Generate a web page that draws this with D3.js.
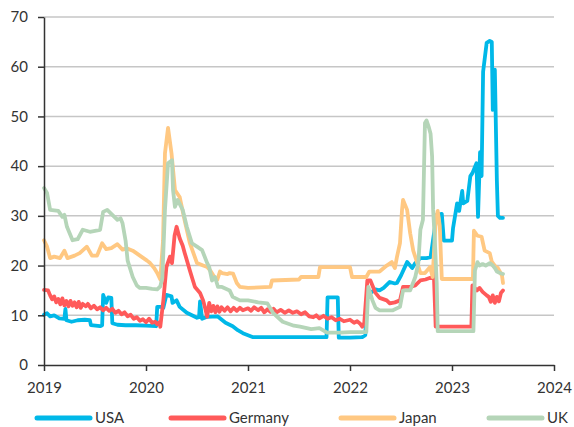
<!DOCTYPE html>
<html><head><meta charset="utf-8">
<script src="https://cdn.jsdelivr.net/npm/d3@7"></script>
<style>body{margin:0;background:#fff}svg{display:block;font-family:Lato,"Open Sans",sans-serif}</style>
</head><body><svg id="c" width="574" height="427"></svg>
<script>
const seriesNames = ["USA", "Germany", "Japan", "UK"];
const seriesColors = ["#00b8e8", "#ff5a5a", "#ffc882", "#b5d5b8"];
const yTicks = [0, 10, 20, 30, 40, 50, 60, 70];
const xTicks = [2019, 2020, 2021, 2022, 2023, 2024];

const usa = [[2019.00,10.1],[2019.03,10.4],[2019.06,9.8],[2019.10,10.0],[2019.15,9.4],[2019.20,9.3],[2019.21,11.3],[2019.22,9.0],[2019.27,8.7],[2019.33,9.0],[2019.40,9.1],[2019.45,9.0],[2019.46,8.0],[2019.55,7.8],[2019.57,8.0],[2019.58,14.1],[2019.61,12.5],[2019.63,13.6],[2019.66,13.5],[2019.67,8.4],[2019.72,8.1],[2019.80,8.0],[2019.90,8.0],[2020.00,7.9],[2020.10,7.8],[2020.11,11.7],[2020.16,11.7],[2020.17,11.5],[2020.20,14.1],[2020.25,13.8],[2020.26,12.5],[2020.30,13.0],[2020.33,11.7],[2020.40,10.5],[2020.45,10.0],[2020.50,9.5],[2020.52,9.6],[2020.53,12.8],[2020.55,9.3],[2020.60,9.7],[2020.70,9.8],[2020.78,8.5],[2020.85,7.8],[2020.90,7.0],[2020.95,6.4],[2021.00,6.0],[2021.05,5.6],[2021.30,5.6],[2021.77,5.6],[2021.78,13.6],[2021.88,13.6],[2021.89,5.5],[2022.00,5.5],[2022.12,5.6],[2022.15,6.0],[2022.17,15.0],[2022.20,14.5],[2022.25,15.2],[2022.29,15.0],[2022.33,15.5],[2022.39,16.7],[2022.44,16.4],[2022.46,16.5],[2022.50,18.0],[2022.56,20.7],[2022.61,19.5],[2022.64,20.5],[2022.69,21.5],[2022.75,21.5],[2022.79,21.7],[2022.85,30.2],[2022.90,30.4],[2022.92,25.0],[2023.00,25.0],[2023.01,27.5],[2023.05,32.5],[2023.07,31.0],[2023.10,35.0],[2023.11,32.5],[2023.15,33.0],[2023.18,38.0],[2023.20,38.6],[2023.24,40.6],[2023.255,29.8],[2023.275,42.8],[2023.29,38.0],[2023.305,59.0],[2023.34,64.8],[2023.37,65.2],[2023.39,65.0],[2023.40,51.3],[2023.42,59.4],[2023.44,37.0],[2023.45,30.0],[2023.47,29.6],[2023.50,29.6]];

const germany = [[2019.00,15.1],[2019.04,15.0],[2019.06,14.0],[2019.08,13.2],[2019.10,13.8],[2019.12,12.6],[2019.14,13.3],[2019.16,12.2],[2019.18,13.4],[2019.20,12.0],[2019.22,12.9],[2019.24,11.8],[2019.26,12.9],[2019.28,11.9],[2019.30,12.6],[2019.32,11.6],[2019.34,12.7],[2019.36,11.5],[2019.38,12.3],[2019.41,11.8],[2019.43,12.3],[2019.46,11.4],[2019.49,11.9],[2019.52,11.2],[2019.55,11.6],[2019.58,11.0],[2019.61,11.5],[2019.64,10.9],[2019.67,11.3],[2019.70,10.5],[2019.73,10.9],[2019.76,10.2],[2019.79,10.6],[2019.82,9.8],[2019.85,10.1],[2019.88,9.3],[2019.91,9.6],[2019.94,8.9],[2019.97,9.2],[2020.00,8.6],[2020.03,9.3],[2020.06,8.5],[2020.09,8.7],[2020.11,8.2],[2020.13,8.6],[2020.14,7.7],[2020.17,13.0],[2020.20,19.7],[2020.235,21.8],[2020.255,20.5],[2020.28,26.0],[2020.30,27.8],[2020.33,25.5],[2020.36,24.0],[2020.38,22.5],[2020.43,19.0],[2020.46,17.0],[2020.48,15.7],[2020.53,14.5],[2020.56,13.0],[2020.58,11.4],[2020.60,9.7],[2020.62,12.5],[2020.64,10.8],[2020.66,11.9],[2020.68,10.6],[2020.70,11.8],[2020.72,10.7],[2020.74,11.6],[2020.77,10.9],[2020.80,11.6],[2020.83,10.8],[2020.86,11.5],[2020.89,10.9],[2020.92,11.5],[2020.95,11.0],[2021.00,11.4],[2021.03,10.9],[2021.06,11.6],[2021.10,11.0],[2021.13,11.5],[2021.16,10.6],[2021.19,11.2],[2021.22,10.7],[2021.25,11.3],[2021.28,10.6],[2021.32,11.1],[2021.36,10.5],[2021.40,11.0],[2021.44,10.5],[2021.48,10.8],[2021.52,10.2],[2021.56,10.6],[2021.60,9.8],[2021.64,9.6],[2021.67,10.0],[2021.70,9.4],[2021.74,9.9],[2021.78,9.3],[2021.82,9.6],[2021.86,9.0],[2021.90,9.3],[2021.94,8.8],[2022.00,9.1],[2022.04,8.5],[2022.07,8.8],[2022.10,8.3],[2022.12,7.7],[2022.14,8.5],[2022.17,17.0],[2022.20,17.0],[2022.25,14.5],[2022.29,13.5],[2022.36,13.0],[2022.39,12.4],[2022.44,12.6],[2022.49,13.0],[2022.52,15.7],[2022.59,15.7],[2022.64,16.0],[2022.69,17.0],[2022.74,17.2],[2022.78,17.5],[2022.81,17.5],[2022.82,19.5],[2022.84,7.7],[2023.00,7.7],[2023.19,7.7],[2023.20,16.0],[2023.245,15.0],[2023.27,15.5],[2023.30,14.7],[2023.34,14.0],[2023.36,13.7],[2023.38,12.7],[2023.40,14.0],[2023.42,12.5],[2023.44,13.7],[2023.46,12.8],[2023.48,14.5],[2023.50,15.0]];

const japan = [[2019.00,25.1],[2019.03,23.8],[2019.06,21.5],[2019.10,21.8],[2019.157,21.5],[2019.20,23.0],[2019.23,21.5],[2019.30,22.0],[2019.35,22.5],[2019.42,23.8],[2019.47,22.0],[2019.52,22.0],[2019.57,24.5],[2019.61,23.3],[2019.66,23.5],[2019.72,24.3],[2019.77,23.2],[2019.81,23.5],[2019.87,23.0],[2019.94,22.0],[2020.01,21.0],[2020.04,20.5],[2020.08,19.5],[2020.11,18.5],[2020.14,17.2],[2020.167,25.0],[2020.186,42.6],[2020.216,47.7],[2020.25,42.6],[2020.284,35.2],[2020.33,33.8],[2020.38,29.0],[2020.43,24.5],[2020.50,20.5],[2020.56,20.0],[2020.60,19.7],[2020.63,19.0],[2020.676,17.5],[2020.70,17.2],[2020.725,18.8],[2020.745,18.5],[2020.80,18.3],[2020.82,18.5],[2020.853,18.4],[2020.89,16.5],[2020.92,15.7],[2021.00,15.5],[2021.22,15.7],[2021.235,17.0],[2021.50,17.2],[2021.52,17.7],[2021.69,17.7],[2021.706,19.7],[2022.00,19.7],[2022.02,17.7],[2022.16,17.7],[2022.19,18.8],[2022.29,18.8],[2022.36,20.0],[2022.41,20.7],[2022.44,19.5],[2022.46,21.7],[2022.49,24.5],[2022.51,31.2],[2022.52,33.2],[2022.56,31.2],[2022.59,26.5],[2022.62,23.0],[2022.66,20.5],[2022.69,18.5],[2022.735,18.5],[2022.785,19.7],[2022.81,17.7],[2022.84,29.0],[2022.86,31.0],[2022.88,28.0],[2022.90,17.3],[2023.00,17.3],[2023.205,17.3],[2023.215,27.0],[2023.25,26.0],[2023.29,25.8],[2023.32,23.0],[2023.37,22.5],[2023.39,20.8],[2023.43,19.7],[2023.45,19.5],[2023.49,18.0],[2023.50,16.5]];

const uk = [[2019.00,35.6],[2019.03,34.6],[2019.06,31.2],[2019.14,31.0],[2019.18,29.8],[2019.20,30.2],[2019.225,27.8],[2019.28,25.1],[2019.33,25.3],[2019.38,27.2],[2019.45,26.8],[2019.55,27.2],[2019.58,30.8],[2019.62,31.2],[2019.67,30.2],[2019.72,29.2],[2019.75,29.5],[2019.77,28.5],[2019.80,25.0],[2019.82,21.0],[2019.87,17.7],[2019.91,16.0],[2019.94,15.5],[2020.00,15.5],[2020.06,15.3],[2020.11,15.2],[2020.14,15.8],[2020.16,17.5],[2020.186,31.2],[2020.216,40.6],[2020.255,41.2],[2020.265,35.2],[2020.284,31.8],[2020.31,33.2],[2020.36,31.2],[2020.40,27.8],[2020.45,24.5],[2020.50,23.8],[2020.55,23.1],[2020.60,20.5],[2020.62,19.7],[2020.647,17.0],[2020.676,17.7],[2020.706,15.7],[2020.745,15.7],[2020.82,15.0],[2020.85,13.7],[2020.92,13.0],[2021.00,13.0],[2021.10,12.6],[2021.19,12.4],[2021.245,10.5],[2021.34,8.7],[2021.45,7.9],[2021.51,7.7],[2021.62,7.2],[2021.70,7.4],[2021.775,6.5],[2021.90,6.5],[2022.00,6.6],[2022.16,6.6],[2022.18,15.7],[2022.22,13.0],[2022.25,11.5],[2022.29,11.0],[2022.35,11.0],[2022.42,11.0],[2022.49,11.7],[2022.52,15.0],[2022.59,15.0],[2022.64,17.7],[2022.67,20.5],[2022.69,27.2],[2022.715,29.2],[2022.735,48.7],[2022.75,49.2],[2022.77,48.0],[2022.79,46.5],[2022.805,41.9],[2022.815,31.2],[2022.833,24.5],[2022.85,16.5],[2022.86,6.8],[2023.00,6.8],[2023.21,6.8],[2023.225,19.0],[2023.25,20.7],[2023.27,20.0],[2023.30,20.3],[2023.33,20.0],[2023.37,20.5],[2023.40,20.0],[2023.42,19.5],[2023.44,18.8],[2023.47,18.5],[2023.50,18.3]];

const allSeries = [usa, germany, japan, uk];

const svg = d3.select("#c");
const x = d3.scaleLinear().domain([2019, 2024]).range([44, 554]);
const y = d3.scaleLinear().domain([0, 70]).range([365, 17]);
const textColor = "#333";

// grid
svg.append("g").selectAll("line").data(yTicks.filter(d => d > 0)).join("line")
  .attr("x1", x(2019)).attr("x2", x(2024))
  .attr("y1", d => y(d)).attr("y2", d => y(d))
  .attr("stroke", "#c6c6c6").attr("stroke-width", 1.5);

// lines
const line = d3.line().x(d => x(d[0])).y(d => y(d[1]));
svg.append("g").selectAll("path").data(allSeries).join("path")
  .attr("d", line).attr("fill", "none")
  .attr("stroke", (d, i) => seriesColors[i])
  .attr("stroke-width", 3.8).attr("stroke-linejoin", "round").attr("stroke-linecap", "round");

// axes
const yAxis = svg.append("g").attr("transform", `translate(${x(2019)},0)`)
  .call(d3.axisLeft(y).tickValues(yTicks).tickSize(6).tickSizeOuter(0).tickPadding(10));
const xAxis = svg.append("g").attr("transform", `translate(0,${y(0)})`)
  .call(d3.axisBottom(x).tickValues(xTicks).tickFormat(d3.format("d")).tickSize(6).tickSizeOuter(0).tickPadding(11));
[yAxis, xAxis].forEach(a => {
  a.select(".domain").attr("stroke", textColor).attr("stroke-width", 1.5);
  a.selectAll(".tick line").attr("stroke", textColor).attr("stroke-width", 1.5);
  a.selectAll("text").attr("fill", textColor).style("font-size", "15px").style("font-family", "Lato, 'Open Sans', sans-serif");
});

// legend
const legendX = [37, 171, 341, 489];
const lg = svg.append("g").selectAll("g").data(seriesNames).join("g")
  .attr("transform", (d, i) => `translate(${legendX[i]},418)`);
lg.append("line").attr("x1", 0).attr("x2", 53).attr("y1", 0).attr("y2", 0)
  .attr("stroke", (d, i) => seriesColors[i]).attr("stroke-width", 5).attr("stroke-linecap", "round");
lg.append("text").attr("x", 58).attr("y", 0).attr("dy", "0.35em")
  .attr("fill", textColor).style("font-size", "15px").text(d => d);
</script></body></html>
